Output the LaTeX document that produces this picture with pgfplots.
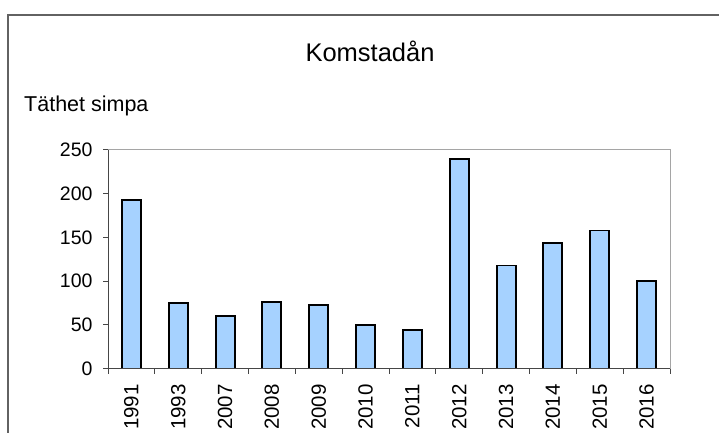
\documentclass[border=0pt]{standalone}
\usepackage{fontspec}
\setmainfont{Liberation Sans}
\usepackage{pgfplots}
\pgfplotsset{compat=1.18}
\definecolor{barblue}{RGB}{166,210,255}
\definecolor{axdark}{RGB}{70,70,70}
\definecolor{axlight}{RGB}{165,165,165}
\begin{document}
\begin{tikzpicture}[x=1bp,y=1bp]
\path[use as bounding box] (0,0) rectangle (719,433);
\draw[axdark!85, line width=1.3bp] (8,-2) -- (8,418) -- (721,418);
\node[anchor=base, font=\fontsize{25.5bp}{25.5bp}\selectfont] at (370,371.5) {Komstadån};
\node[anchor=base west, inner sep=0pt, font=\fontsize{21.5bp}{21.5bp}\selectfont] at (24,321.5) {Täthet simpa};
\begin{axis}[
  at={(108bp,64.3bp)}, anchor=south west,
  scale only axis, width=562bp, height=218.7bp,
  xmin=-0.5, xmax=11.5, ymin=0, ymax=250,
  ytick={0,50,100,150,200,250},
  xtick={-0.5,0.5,...,11.5}, xticklabels={,,,,,,,,,,,,,},
  extra x ticks={0,1,2,3,4,5,6,7,8,9,10,11},
  extra x tick labels={1991,1993,2007,2008,2009,2010,2011,2012,2013,2014,2015,2016},
  extra x tick style={major tick length=0pt, tick label style={yshift=-12bp, rotate=90, anchor=east, font=\fontsize{20.5bp}{20.5bp}\selectfont}},
  tick align=outside, major tick length=5bp, tick pos=left,
  tick style={axdark, line width=1bp},
  axis line style={axlight, line width=1bp},
  /pgf/number format/assume math mode=true,
  tick label style={font=\fontsize{19.5bp}{19.5bp}\selectfont},
  yticklabel style={xshift=-7bp},
  ybar, bar width=19bp,
]
\addplot[fill=barblue, draw=black, line width=1.9bp] coordinates {
(0,193) (1,75) (2,60) (3,76) (4,73) (5,50) (6,44) (7,240) (8,118) (9,144) (10,158) (11,100)};
\draw[axdark, line width=1bp] (rel axis cs:0,1) -- (rel axis cs:0,0) -- (rel axis cs:1,0);
\end{axis}
\end{tikzpicture}
\end{document}
